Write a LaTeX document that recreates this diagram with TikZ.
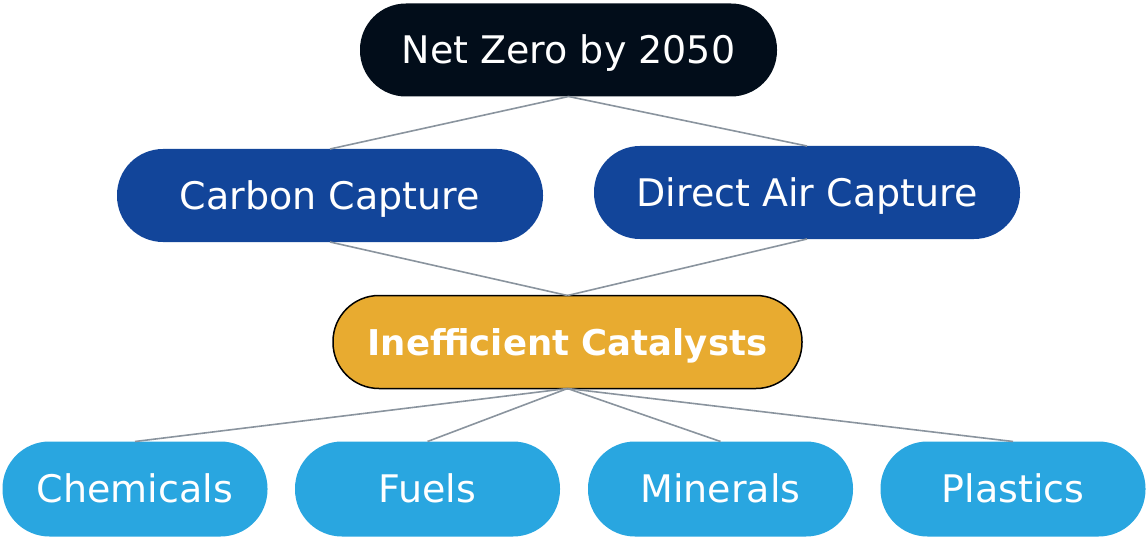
\documentclass[tikz,border=0pt]{standalone}
\usepackage{fontspec}
\setmainfont{DejaVu Sans}
\begin{document}
\begin{tikzpicture}[x=1pt,y=-1pt,
  pill/.style={rectangle, rounded corners=46pt, minimum height=93pt, inner sep=0pt, outer sep=0pt, text=white, text height=27.7pt, text depth=0pt, font=\fontsize{38}{44}\selectfont},
  topbox/.style={pill, fill=topc, minimum width=417pt},
  midbox/.style={pill, fill=midc, minimum width=426pt},
  goalbox/.style={pill, fill=goalc, draw=black, line width=1.5pt, minimum width=469pt, text height=26pt, font=\fontsize{35.5}{42}\selectfont\bfseries},
  leafbox/.style={pill, fill=leafc, minimum width=265pt, minimum height=95pt, rounded corners=47pt},
  link/.style={draw=linkc, line width=1.6pt}
]
\definecolor{topc}{HTML}{020D1A}
\definecolor{midc}{HTML}{12459A}
\definecolor{goalc}{HTML}{E8AB30}
\definecolor{leafc}{HTML}{29A6E0}
\definecolor{linkc}{HTML}{8A949E}
\useasboundingbox (0,0) rectangle (1148,540);
\node[topbox] (net) at (568.5,50) {Net Zero by 2050};
\node[midbox] (cc) at (330,195.5) {Carbon Capture};
\node[midbox] (dac) at (807,192.5) {Direct Air Capture};
\node[goalbox] (ic) at (567.5,342) {Inefficient Catalysts};
\node[leafbox] (ch) at (135,489) {Chemicals};
\node[leafbox] (fu) at (427.5,489) {Fuels};
\node[leafbox] (mi) at (720.5,489) {Minerals};
\node[leafbox] (pl) at (1013,489) {Plastics};
\path[link] (net.south) -- (cc.north);
\path[link] (net.south) -- (dac.north);
\path[link] (cc.south) -- (ic.north);
\path[link] (dac.south) -- (ic.north);
\path[link] (ic.south) -- (ch.north);
\path[link] (ic.south) -- (fu.north);
\path[link] (ic.south) -- (mi.north);
\path[link] (ic.south) -- (pl.north);
\end{tikzpicture}
\end{document}
